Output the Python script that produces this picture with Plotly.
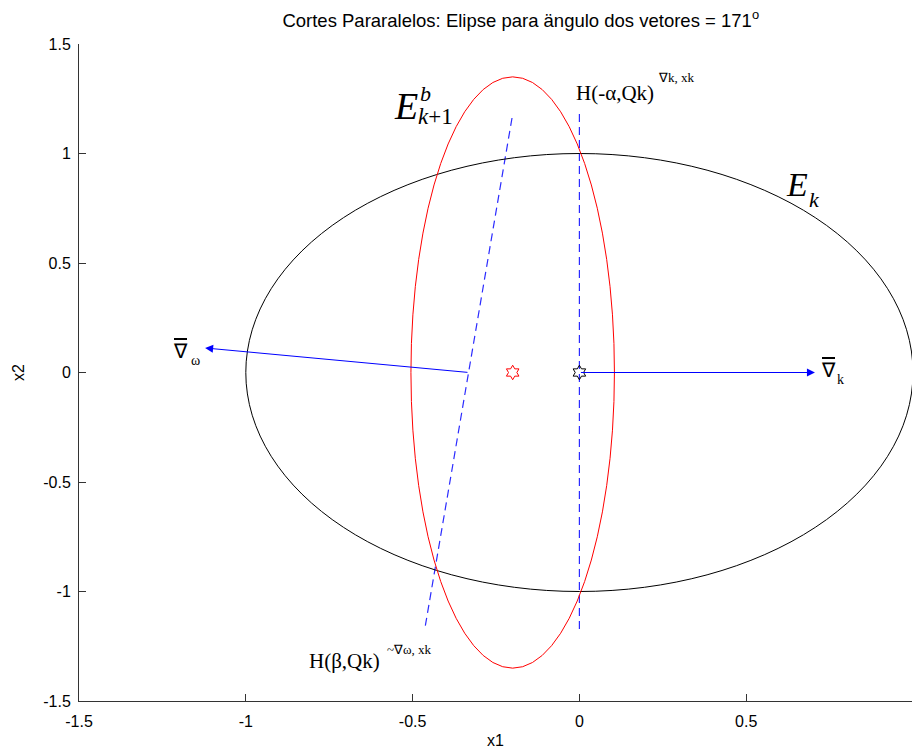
import plotly.graph_objects as go

# ---- data ----
ellipse_names = ["E_k", "E_k+1^b"]
ellipse_cx = [0.0, -0.2]
ellipse_cy = [0.0, 0.0]
ellipse_rx = [1.0, 0.305]
ellipse_ry = [1.0, 1.35]
ellipse_colors = ["black", "red"]

cut_vertical_x = [0.0, 0.0]
cut_vertical_y = [1.18, -1.18]
cut_slanted_x = [-0.202, -0.463]
cut_slanted_y = [1.162, -1.167]

centers_x = [-0.2, 0.0]
centers_y = [0.0, 0.0]
center_colors = ["red", "black"]

grad_k_tail = (0.0, 0.0)
grad_k_head = (0.706, 0.0)
grad_w_tail = (-0.331, 0.0)
grad_w_head = (-1.122, 0.112)

x_ticks = [-1.5, -1, -0.5, 0, 0.5, 1]
y_ticks = [-1.5, -1, -0.5, 0, 0.5, 1, 1.5]

fig = go.Figure()

for cx, cy, rx, ry, c in zip(ellipse_cx, ellipse_cy, ellipse_rx, ellipse_ry, ellipse_colors):
    fig.add_shape(type="circle", xref="x", yref="y",
                  x0=cx - rx, x1=cx + rx, y0=cy - ry, y1=cy + ry,
                  line=dict(color=c, width=1))

for xs, ys in [(cut_vertical_x, cut_vertical_y), (cut_slanted_x, cut_slanted_y)]:
    fig.add_trace(go.Scatter(x=xs, y=ys, mode="lines",
                             line=dict(color="#2B2BFF", width=1.2, dash="8px,5px"),
                             showlegend=False, hoverinfo="skip"))

fig.add_trace(go.Scatter(x=centers_x, y=centers_y, mode="markers",
                         marker=dict(symbol="hexagram-open", size=11,
                                     color=center_colors, line=dict(width=1, color=center_colors)),
                         showlegend=False, hoverinfo="skip"))

for tail, head in [(grad_k_tail, grad_k_head), (grad_w_tail, grad_w_head)]:
    fig.add_annotation(x=head[0], y=head[1], ax=tail[0], ay=tail[1],
                       xref="x", yref="y", axref="x", ayref="y",
                       text="", showarrow=True, arrowhead=2, arrowsize=1.6,
                       arrowwidth=1, arrowcolor="#0000FF")

serif = "Liberation Serif, Times New Roman, serif"

def txt(x, y, t, size, xanchor="center", yanchor="middle"):
    fig.add_annotation(x=x, y=y, xref="x", yref="y", text=t, showarrow=False,
                       font=dict(family=serif, size=size, color="black"),
                       xanchor=xanchor, yanchor=yanchor)

# E_{k+1}^b
txt(-0.520, 1.215, "<i>E</i>", 38)
txt(-0.461, 1.272, "<i>b</i>", 22)
txt(-0.430, 1.167, "<i>k</i>+1", 23)
# E_k
txt(0.652, 0.860, "<i>E</i>", 34)
txt(0.706, 0.792, "<i>k</i>", 22)
# H(-alpha,Qk)
txt(0.107, 1.276, "H(-α,Qk)", 21)
txt(0.29, 1.349, "∇k, xk", 13)
# H(beta,Qk)
txt(-0.703, -1.317, "H(β,Qk)", 21)
txt(-0.508, -1.263, "~∇ω, xk", 13)
# gradient labels
txt(-1.197, 0.098, "<span style='text-decoration:overline'>∇</span>", 20)
txt(-1.152, 0.057, "ω", 14)
txt(0.748, 0.011, "<span style='text-decoration:overline'>∇</span>", 20)
txt(0.784, -0.03, "k", 14)

sans = "Liberation Sans, Arial"
axis_common = dict(showline=True, linecolor="#333333", linewidth=1, ticks="inside",
                   ticklen=7, tickcolor="#333333", showgrid=False, zeroline=False,
                   tickfont=dict(family=sans, size=16, color="black"),
                   title_font=dict(family=sans, size=16, color="black"),
                   mirror=False)

fig.update_xaxes(range=[-1.5, 0.997], tickvals=x_ticks,
                 ticktext=[str(v) for v in x_ticks], title_text="x1",
                 title_standoff=6, ticklabelstandoff=6, **axis_common)
fig.update_yaxes(range=[-1.5, 1.5], tickvals=y_ticks,
                 ticktext=[str(v) for v in y_ticks], title_text="x2",
                 title_standoff=14, ticklabelstandoff=4, **axis_common)

fig.update_layout(
    width=912, height=749,
    margin=dict(l=79, r=0, t=44, b=48),
    paper_bgcolor="white", plot_bgcolor="white",
    title=dict(text="Cortes Pararalelos: Elipse para ängulo dos vetores = 171<sup>o</sup>",
               x=0.571, xref="container", xanchor="center", y=0.973, yanchor="middle",
               font=dict(family=sans, size=18.5, color="black")),
)

# remove the default page margin so the figure fills the window exactly
fig.write_html("out.html", config={"displayModeBar": False},
               post_script="document.body.style.margin='0';document.body.style.overflow='hidden';")
